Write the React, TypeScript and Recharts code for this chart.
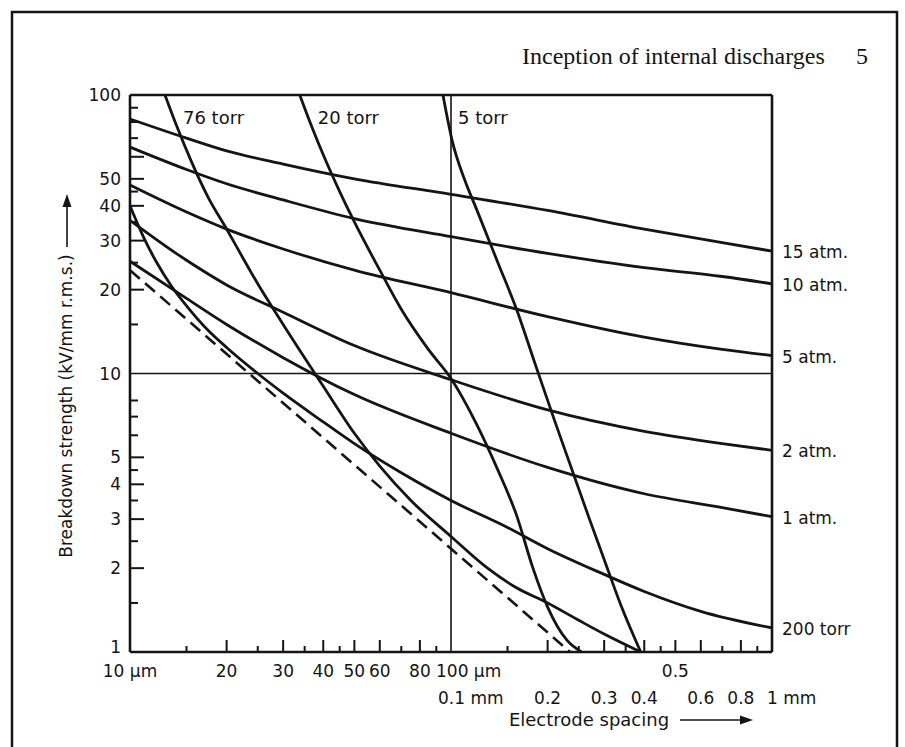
import React from 'react';
import { LineChart, Line, XAxis, YAxis, ReferenceLine } from 'recharts';

// Electrode spacing (µm) vs breakdown strength (kV/mm r.m.s.)
const atm15 = [[10, 82], [15, 70], [20, 63], [30, 56.5], [50, 50], [100, 44], [200, 38.5], [400, 33], [700, 29.5], [1000, 27.5]];
const atm10 = [[10, 65], [15, 54], [20, 48], [30, 42], [50, 36], [100, 31], [200, 27], [400, 24], [700, 22.3], [1000, 21]];
const atm5 = [[10, 47.5], [15, 38], [20, 33], [30, 28], [50, 23.5], [100, 19.5], [200, 16], [400, 13.5], [700, 12.2], [1000, 11.6]];
const atm2 = [[10, 35.5], [15, 25.5], [20, 20.8], [30, 16.6], [50, 12.6], [100, 9.5], [200, 7.4], [400, 6.2], [700, 5.6], [1000, 5.3]];
const atm1 = [[10, 25.3], [15, 18.6], [20, 15], [30, 11.4], [50, 8.4], [100, 6.1], [200, 4.6], [400, 3.7], [700, 3.3], [1000, 3.06]];
const torr200 = [[10, 40], [11, 31], [12, 25.5], [13.5, 20.5], [15, 17.5], [17.5, 14.3], [20, 12.4], [25, 10], [30, 8.5], [40, 6.7], [50, 5.6], [70, 4.4], [100, 3.5], [150, 2.8], [200, 2.35], [300, 1.9], [400, 1.65], [600, 1.4], [1000, 1.22]];
const torr76 = [[12.85, 100], [14, 77], [15.5, 58], [17.5, 43], [20, 33], [25, 21], [30, 15], [40, 9], [50, 6.1], [60, 4.65], [75, 3.5], [100, 2.6], [130, 2.0], [160, 1.7], [200, 1.5], [250, 1.3], [300, 1.16], [390, 1]];
const torr20 = [[33.8, 100], [37, 76], [40, 61], [45, 45], [50, 35], [60, 23.5], [70, 17], [85, 12.2], [100, 9.6], [120, 6.6], [140, 4.5], [160, 3.1], [180, 2.0], [200, 1.45], [230, 1.1], [255, 1]];
const torr5 = [[94.4, 100], [101, 68], [110, 50], [120, 39], [140, 25], [160, 17], [182, 11], [210, 6.8], [240, 4.4], [270, 3], [300, 2.15], [340, 1.45], [390, 1]];
const paschenMin = [[10, 23.5], [235, 1]];

const X_TICKS = [10, 15, 20, 25, 30, 35, 40, 45, 50, 60, 70, 80, 90, 100, 150, 200, 250, 300, 350, 400, 450, 500, 600, 700, 800, 900, 1000];
const X_MAJOR = [20, 30, 40, 50, 60, 80, 200, 300, 400, 500, 600, 800];
const X_ROW1: Record<number, string> = { 10: '10 µm', 20: '20', 30: '30', 40: '40', 50: '50', 60: '60', 80: '80', 100: '100 µm', 500: '0.5' };
const X_ROW2: Record<number, string> = { 100: '0.1 mm', 200: '0.2', 300: '0.3', 400: '0.4', 600: '0.6', 800: '0.8', 1000: '1 mm' };
const Y_TICKS = [1, 1.5, 2, 2.5, 3, 3.5, 4, 4.5, 5, 6, 7, 8, 10, 15, 20, 25, 30, 35, 40, 45, 50, 60, 70, 80, 90, 100];
const Y_MAJOR = [2, 3, 4, 5, 20, 30, 40, 50, 60];
const Y_LABELS: Record<number, string> = { 1: '1', 2: '2', 3: '3', 4: '4', 5: '5', 10: '10', 20: '20', 30: '30', 40: '40', 50: '50', 100: '100' };

const toPts = (a: number[][]) => a.map(([d, e]) => ({ d, e }));

const FONT = '"DejaVu Sans", Verdana, sans-serif';
const SERIF = '"Liberation Serif", "Times New Roman", serif';
const INK = '#141414';

const noTick = (v: number, ends: number[]) => ends.includes(v);

function BottomTick(p: any) {
  const { x, y, payload } = p;
  const v = payload.value;
  const len = X_MAJOR.includes(v) ? 12 : 6;
  const r1 = X_ROW1[v];
  const r2 = X_ROW2[v];
  const anchor1 = v === 100 ? 'start' : 'middle';
  const dx1 = v === 100 ? -15 : 0;
  const anchor2 = v === 100 || v === 1000 ? 'start' : 'middle';
  const dx2 = v === 100 ? -13 : v === 1000 ? -5 : 0;
  return (
    <g>
      {!noTick(v, [10, 100, 1000]) && <line x1={x} x2={x} y1={y} y2={y - len} stroke={INK} strokeWidth={2} />}
      {r1 && <text x={x + dx1} y={y + 25} textAnchor={anchor1} fontFamily={FONT} fontSize={17} fill={INK}>{r1}</text>}
      {r2 && <text x={x + dx2} y={y + 52} textAnchor={anchor2} fontFamily={FONT} fontSize={17} fill={INK}>{r2}</text>}
    </g>
  );
}

function TopTick(p: any) {
  const { x, y, payload } = p;
  const v = payload.value;
  const len = X_MAJOR.includes(v) ? 12 : 6;
  if (noTick(v, [10, 100, 1000])) return <g />;
  return <line x1={x} x2={x} y1={y} y2={y + len} stroke={INK} strokeWidth={2} />;
}

function LeftTick(p: any) {
  const { x, y, payload } = p;
  const v = payload.value;
  const len = Y_MAJOR.includes(v) ? 14 : 8;
  const lab = Y_LABELS[v];
  const dy = v === 1 ? 1 : 6;
  return (
    <g>
      {!noTick(v, [1, 10, 100]) && <line x1={x} x2={x + len} y1={y} y2={y} stroke={INK} strokeWidth={2} />}
      {lab && <text x={x - 9} y={y + dy} textAnchor="end" fontFamily={FONT} fontSize={17} fill={INK}>{lab}</text>}
    </g>
  );
}

function RightTick(p: any) {
  const { x, y, payload } = p;
  const v = payload.value;
  const len = Y_MAJOR.includes(v) ? 14 : 8;
  if (noTick(v, [1, 10, 100])) return <g />;
  return <line x1={x} x2={x - len} y1={y} y2={y} stroke={INK} strokeWidth={2} />;
}

const endLabel = (text: string, n: number) => (p: any) => {
  if (p.index !== n - 1) return <g key={`e${p.index}`} />;
  return (
    <text key={`e${p.index}`} x={p.cx + 10} y={p.cy + 7} fontFamily={FONT} fontSize={17} fill={INK}>{text}</text>
  );
};

const topLabel = (text: string, dx: number) => (p: any) => {
  if (p.index !== 0) return <g key={`t${p.index}`} />;
  return (
    <text key={`t${p.index}`} x={p.cx + dx} y={p.cy + 29} fontFamily={FONT} fontSize={18} fill={INK}>{text}</text>
  );
};

const curveProps = {
  xAxisId: 'b',
  yAxisId: 'l',
  dataKey: 'e',
  type: 'monotone' as const,
  stroke: INK,
  strokeWidth: 2.8,
  isAnimationActive: false,
};

export default function App() {
  return (
    <div style={{ position: 'absolute', left: 0, top: 0, width: 905, height: 747, background: '#fff' }}>
      <LineChart width={905} height={747} margin={{ top: 85, right: 123, bottom: 65, left: 70 }}>
        <XAxis xAxisId="b" dataKey="d" type="number" scale="log" domain={[10, 1000]} ticks={X_TICKS} interval={0}
          orientation="bottom" height={30} tickSize={0} tickMargin={0} tickLine={false} tick={<BottomTick />}
          axisLine={{ stroke: INK, strokeWidth: 2.6 }} />
        <XAxis xAxisId="t" dataKey="d" type="number" scale="log" domain={[10, 1000]} ticks={X_TICKS} interval={0}
          orientation="top" height={10} tickSize={0} tickMargin={0} tickLine={false} tick={<TopTick />}
          axisLine={{ stroke: INK, strokeWidth: 2.6 }} />
        <YAxis yAxisId="l" type="number" scale="log" domain={[1, 100]} ticks={Y_TICKS} interval={0}
          orientation="left" width={60} tickSize={0} tickMargin={0} tickLine={false} tick={<LeftTick />}
          axisLine={{ stroke: INK, strokeWidth: 2.6 }} />
        <YAxis yAxisId="r" type="number" scale="log" domain={[1, 100]} ticks={Y_TICKS} interval={0}
          orientation="right" width={10} tickSize={0} tickMargin={0} tickLine={false} tick={<RightTick />}
          axisLine={{ stroke: INK, strokeWidth: 2.6 }} />
        <ReferenceLine xAxisId="b" yAxisId="l" x={100} stroke={INK} strokeWidth={1.6} />
        <ReferenceLine xAxisId="b" yAxisId="l" y={10} stroke={INK} strokeWidth={1.6} />
        <Line {...curveProps} data={toPts(atm15)} dot={endLabel('15 atm.', atm15.length)} />
        <Line {...curveProps} data={toPts(atm10)} dot={endLabel('10 atm.', atm10.length)} />
        <Line {...curveProps} data={toPts(atm5)} dot={endLabel('5 atm.', atm5.length)} />
        <Line {...curveProps} data={toPts(atm2)} dot={endLabel('2 atm.', atm2.length)} />
        <Line {...curveProps} data={toPts(atm1)} dot={endLabel('1 atm.', atm1.length)} />
        <Line {...curveProps} data={toPts(torr200)} dot={endLabel('200 torr', torr200.length)} />
        <Line {...curveProps} data={toPts(torr76)} dot={topLabel('76 torr', 18)} />
        <Line {...curveProps} data={toPts(torr20)} dot={topLabel('20 torr', 18)} />
        <Line {...curveProps} data={toPts(torr5)} dot={topLabel('5 torr', 15)} />
        <Line {...curveProps} data={toPts(paschenMin)} dot={false} strokeDasharray="13 7" strokeWidth={2.6} />
      </LineChart>
      <svg width={905} height={747} style={{ position: 'absolute', left: 0, top: 0, pointerEvents: 'none' }}>
        <path d="M12 760 L12 12 L897 12 L897 760" fill="none" stroke={INK} strokeWidth={2.5} />
        <text x={522} y={64} fontFamily={SERIF} fontSize={24} fill={INK}>Inception of internal discharges</text>
        <text x={862} y={64} textAnchor="middle" fontFamily={SERIF} fontSize={24} fill={INK}>5</text>
        <text x={72} y={406} transform="rotate(-90 72 406)" textAnchor="middle" fontFamily={FONT} fontSize={17} fill={INK}>Breakdown strength (kV/mm r.m.s.)</text>
        <line x1={67} y1={247} x2={67} y2={205} stroke={INK} strokeWidth={1.6} />
        <path d="M67 194 L62.5 207 L71.5 207 Z" fill={INK} />
        <text x={589} y={726} textAnchor="middle" fontFamily={FONT} fontSize={18} fill={INK}>Electrode spacing</text>
        <line x1={680} y1={720} x2={742} y2={720} stroke={INK} strokeWidth={1.6} />
        <path d="M753 720 L740 715.5 L740 724.5 Z" fill={INK} />
      </svg>
    </div>
  );
}
